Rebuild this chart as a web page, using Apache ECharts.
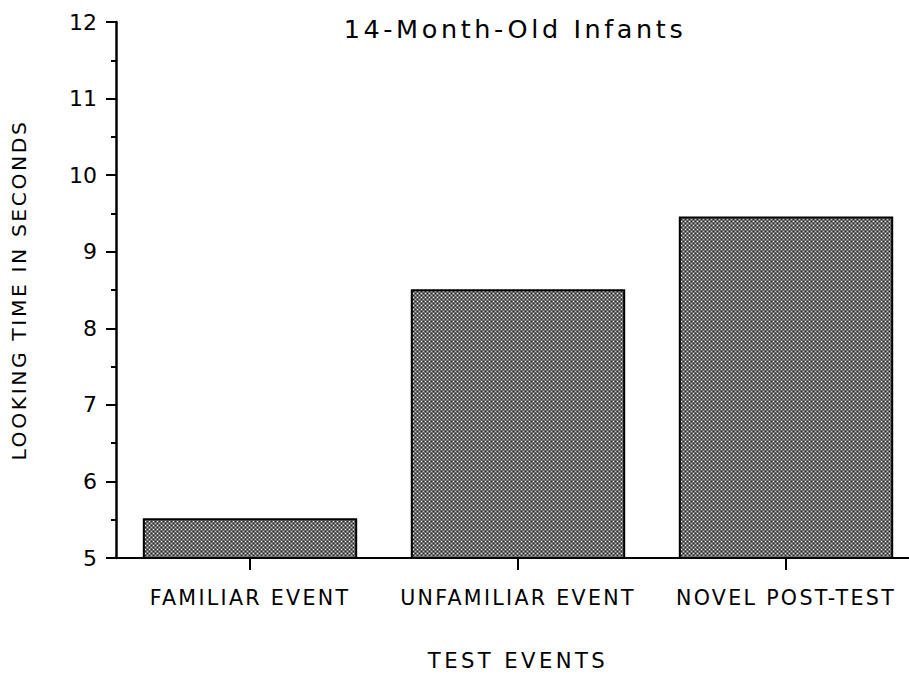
<!DOCTYPE html>
<html>
<head>
<meta charset="utf-8">
<script src="https://cdn.jsdelivr.net/npm/echarts@6/dist/echarts.min.js"></script>
<style>
  html, body { margin: 0; padding: 0; background: #fff; overflow: hidden; }
  /* the chart runs past the right edge of the window, like the original figure */
  #chart { width: 920px; height: 679px; }
  /* the printed labels are widely tracked */
  #chart text[style*="25.5px"] { letter-spacing: 3.6px; }
  #chart text[style*="20.6px"] { letter-spacing: 2.3px; }
  #chart text[style*="21.2px"] { letter-spacing: 3.4px; }
  #chart text[style*="20.3px"] { letter-spacing: 2.6px; }
</style>
</head>
<body>
<div id="chart"></div>
<script>
// data
const categories = ["FAMILIAR EVENT", "UNFAMILIAR EVENT", "NOVEL POST-TEST"];
const lookingTimes = [5.52, 8.51, 9.46];
const yTicks = [5, 6, 7, 8, 9, 10, 11, 12];

// dithered grey fill like the printed bars
function makeDither() {
  const c = document.createElement("canvas");
  c.width = 4;
  c.height = 4;
  const ctx = c.getContext("2d");
  ctx.fillStyle = "#6e6e6e";
  ctx.fillRect(0, 0, 4, 4);
  ctx.fillStyle = "#eeeeee";
  ctx.fillRect(1, 1, 1, 1);
  ctx.fillStyle = "#bdbdbd";
  ctx.fillRect(3, 3, 1, 1);
  ctx.fillStyle = "#262626";
  ctx.fillRect(3, 1, 1, 1);
  ctx.fillRect(1, 3, 1, 1);
  return c;
}

const myChart = echarts.init(document.getElementById("chart"), null, { renderer: "svg" });
const font = "DejaVu Sans";

const option = {
  animation: false,
  title: {
    text: "14-Month-Old Infants",
    left: 510,
    top: 11,
    textAlign: "center",
    textStyle: { fontFamily: font, fontSize: 25.5, fontWeight: "normal", color: "#000" }
  },
  grid: { left: 116, top: 22, bottom: 121, right: 0 },
  xAxis: {
    type: "category",
    data: categories,
    name: "TEST EVENTS",
    nameLocation: "middle",
    nameGap: 92,
    nameTextStyle: { fontFamily: font, fontSize: 21.2, color: "#000" },
    axisLine: { show: true, lineStyle: { color: "#000", width: 2 } },
    axisTick: { show: true, alignWithLabel: true, length: 12, lineStyle: { color: "#000", width: 2 } },
    axisLabel: { fontFamily: font, fontSize: 20.6, color: "#000", margin: 29 }
  },
  yAxis: {
    type: "value",
    min: yTicks[0],
    max: yTicks[yTicks.length - 1],
    interval: 1,
    name: "LOOKING TIME IN SECONDS",
    nameLocation: "middle",
    nameGap: 87,
    nameTextStyle: { fontFamily: font, fontSize: 20.3, color: "#000" },
    splitLine: { show: false },
    axisLine: { show: true, lineStyle: { color: "#000", width: 2.5 } },
    axisTick: { show: true, length: 10, lineStyle: { color: "#000", width: 2 } },
    minorTick: { show: true, splitNumber: 2, length: 5, lineStyle: { color: "#000", width: 2 } },
    axisLabel: { fontFamily: font, fontSize: 22, color: "#000", margin: 19 }
  },
  series: [
    {
      type: "bar",
      data: lookingTimes,
      barCategoryGap: "20%",
      itemStyle: {
        color: { image: makeDither(), repeat: "repeat" },
        borderColor: "#000",
        borderWidth: 2
      }
    }
  ]
};

myChart.setOption(option);
</script>
</body>
</html>
